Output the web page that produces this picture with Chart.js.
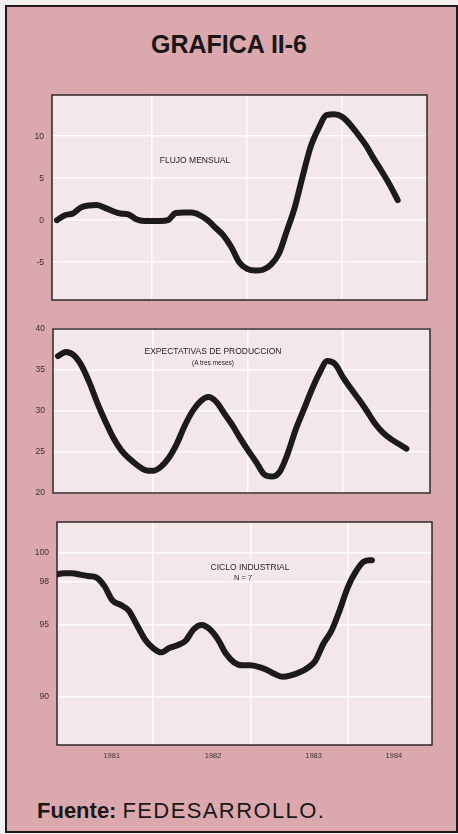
<!DOCTYPE html>
<html>
<head>
<meta charset="utf-8">
<script src="https://cdn.jsdelivr.net/npm/chart.js@4.4.1/dist/chart.umd.min.js"></script>
<style>
  html, body { margin:0; padding:0; width:458px; height:834px; overflow:hidden; background:#f3efef; font-family:"Liberation Sans", Arial, sans-serif; }
  #frame { position:absolute; left:5px; top:5px; width:453px; height:828px; box-sizing:border-box; border:2px solid #1e1a1b; background:#dba8ae; }
  canvas { position:absolute; left:0; }
  .t { position:absolute; transform:translate(-50%,-50%); white-space:nowrap; color:#231e20; }
  #title { left:229px; top:44px; font-size:25px; font-weight:bold; color:#1a1718; }
  .ann { font-size:8.5px; }
  .sub { font-size:6.5px; }
  #foot { position:absolute; left:37px; top:798px; font-size:22px; color:#1a1718; white-space:nowrap; }
  #foot b { font-weight:bold; }
  #foot span { letter-spacing:1.4px; margin-left:6px; }
</style>
</head>
<body>
<div id="frame"></div>
<div id="title" class="t">GRAFICA II-6</div>
<canvas id="c1" width="458" height="215" style="top:90px"></canvas>
<canvas id="c2" width="458" height="180" style="top:320px"></canvas>
<canvas id="c3" width="458" height="250" style="top:515px"></canvas>
<div class="t ann" style="left:195px;top:160px">FLUJO MENSUAL</div>
<div class="t ann" style="left:213px;top:351px">EXPECTATIVAS DE PRODUCCION</div>
<div class="t sub" style="left:213px;top:362px">(A tres meses)</div>
<div class="t ann" style="left:250px;top:567px">CICLO INDUSTRIAL</div>
<div class="t sub" style="left:243px;top:577px;font-size:7.5px">N = 7</div>
<div id="foot"><b>Fuente:</b><span>FEDESARROLLO.</span></div>
<script>
// ---- data (months counted from January 1981 = 0) ----
const flujoMonths = [0,1,2,3,4,5,6,7,8,9,10,11,12,13,14,15,16,17,18,19,20,21,22,23,24,25,26,27,28,29,30,31,32,33,34,35,36,37,38,39,40,41,42,43];
const flujoValues = [0.0,0.6,0.8,1.5,1.75,1.8,1.5,1.1,0.8,0.7,
                     0.1,-0.1,-0.1,-0.1,0.0,0.85,0.9,0.9,0.6,0.0,
                     -0.9,-1.8,-3.2,-5.0,-5.8,-6.0,-5.9,-5.3,-4.0,-1.3,
                     1.5,5.2,8.7,10.9,12.5,12.6,12.3,11.4,10.2,8.9,
                     7.3,5.8,4.2,2.4];

const expMonths = [0,1,2,3,4,5,6,7,8,9,10,11,12,13,14,15,16,17,18,19,20,21,22,23,24,25,26,27,28,29,30,31,32,33,34,35,36,37,38,39,40,41,42,43,44];
const expValues = [36.7,37.2,36.8,35.5,33.4,30.9,28.7,26.7,25.2,24.2,
                   23.4,22.8,22.7,23.2,24.3,26.0,28.2,30.0,31.2,31.7,
                   31.1,29.7,28.3,26.7,25.2,23.8,22.3,22.0,22.6,24.8,
                   27.7,30.1,32.5,34.6,36.1,35.7,34.1,32.7,31.4,30.0,
                   28.5,27.4,26.6,26.0,25.4];

const cicloMonths = [0,1,2,3,4,5,6,7,8,9,10,11,12,13,14,15,16,17,18,19,20,21,22,23,24,25,26,27,28,29,30,31,32,33,34,35,36,37,38,39];
const cicloValues = [98.5,98.6,98.6,98.5,98.4,98.3,97.7,96.7,96.4,96.0,
                     95.0,94.0,93.4,93.1,93.4,93.6,93.9,94.7,95.0,94.7,
                     94.0,93.0,92.4,92.2,92.2,92.1,91.9,91.6,91.4,91.5,
                     91.7,92.0,92.5,93.7,94.6,96.0,97.6,98.7,99.4,99.5];

const flujoTicks = [-5, 0, 5, 10];
const expTicks = [20, 25, 30, 35, 40];
const cicloTicks = [90, 95, 98, 100];
const yearBounds = [12, 24, 36];
const yearLabels = ['1981', '1982', '1983', '1984'];
const yearLabelAt = [6.9, 19.4, 31.8, 41.7];

// ---- styling ----
const PANEL_BG = '#f4e7e9';
const GRID = 'rgba(255,255,255,0.95)';
const LINE = '#1d1a1c';
const TICK_COLOR = '#3a3032';

const framePlugin = {
  id: 'panelFrame',
  beforeDraw(chart) {
    const { ctx, chartArea: a } = chart;
    ctx.save();
    ctx.fillStyle = PANEL_BG;
    ctx.fillRect(a.left, a.top, a.right - a.left, a.bottom - a.top);
    ctx.restore();
  },
  afterDraw(chart) {
    const { ctx, chartArea: a } = chart;
    ctx.save();
    ctx.strokeStyle = '#2e2729';
    ctx.lineWidth = 1.5;
    ctx.strokeRect(a.left, a.top, a.right - a.left, a.bottom - a.top);
    ctx.restore();
  }
};

function noPad(s) { s.paddingTop = 0; s.paddingBottom = 0; s.paddingLeft = 0; s.paddingRight = 0; }

function makePanel(id, months, values, o) {
  const showYears = !!o.showYears;
  const xTicks = showYears ? yearBounds.concat(yearLabelAt) : yearBounds;
  return new Chart(document.getElementById(id), {
    type: 'line',
    data: {
      datasets: [{
        data: months.map((m, i) => ({ x: m, y: values[i] })),
        borderColor: LINE,
        borderWidth: 6,
        pointRadius: 0,
        cubicInterpolationMode: 'monotone',
        borderCapStyle: 'round',
        borderJoinStyle: 'round',
        fill: false
      }]
    },
    options: {
      responsive: false,
      animation: false,
      events: [],
      layout: { padding: { left: 0, right: o.right, top: o.top, bottom: o.bottom } },
      plugins: { legend: { display: false }, tooltip: { enabled: false } },
      scales: {
        x: {
          type: 'linear',
          min: o.xmin, max: o.xmax,
          afterBuildTicks: s => { s.ticks = xTicks.map(v => ({ value: v })); },
          afterFit: s => { s.height = showYears ? 20 : 0; noPad(s); },
          grid: {
            drawTicks: false,
            lineWidth: 1.5,
            color: c => (c.tick && yearBounds.includes(c.tick.value)) ? GRID : 'rgba(0,0,0,0)'
          },
          border: { display: false },
          ticks: {
            display: showYears,
            autoSkip: false,
            maxRotation: 0,
            padding: 6,
            color: TICK_COLOR,
            font: { family: 'Liberation Sans', size: 7.5 },
            callback: v => { const i = yearLabelAt.indexOf(v); return i >= 0 ? yearLabels[i] : ''; }
          }
        },
        y: {
          type: 'linear',
          min: o.ymin, max: o.ymax,
          afterBuildTicks: s => { s.ticks = o.yTicks.map(v => ({ value: v })); },
          afterFit: s => { s.width = o.left; noPad(s); },
          grid: { drawTicks: false, lineWidth: 1.5, color: GRID },
          border: { display: false },
          ticks: {
            padding: 8,
            color: TICK_COLOR,
            font: { family: 'Liberation Sans', size: 8.5 },
            callback: v => String(v)
          }
        }
      }
    },
    plugins: [framePlugin]
  });
}

// panel 1: chart area x 52..427, y 95..300
makePanel('c1', flujoMonths, flujoValues, {
  left: 52, right: 458 - 427, top: 5, bottom: 5,
  xmin: -0.63, xmax: 46.7, ymin: -9.5, ymax: 14.9, yTicks: flujoTicks
});
// panel 2: chart area x 53..430, y 329..493
makePanel('c2', expMonths, expValues, {
  left: 53, right: 458 - 430, top: 9, bottom: 7,
  xmin: -0.63, xmax: 46.97, ymin: 20, ymax: 40, yTicks: expTicks
});
// panel 3: chart area x 57..432, y 522..745
makePanel('c3', cicloMonths, cicloValues, {
  left: 57, right: 458 - 432, top: 7, bottom: 0,
  xmin: 0.15, xmax: 46.4, ymin: 86.67, ymax: 102.15, yTicks: cicloTicks, showYears: true
});
</script>
</body>
</html>
